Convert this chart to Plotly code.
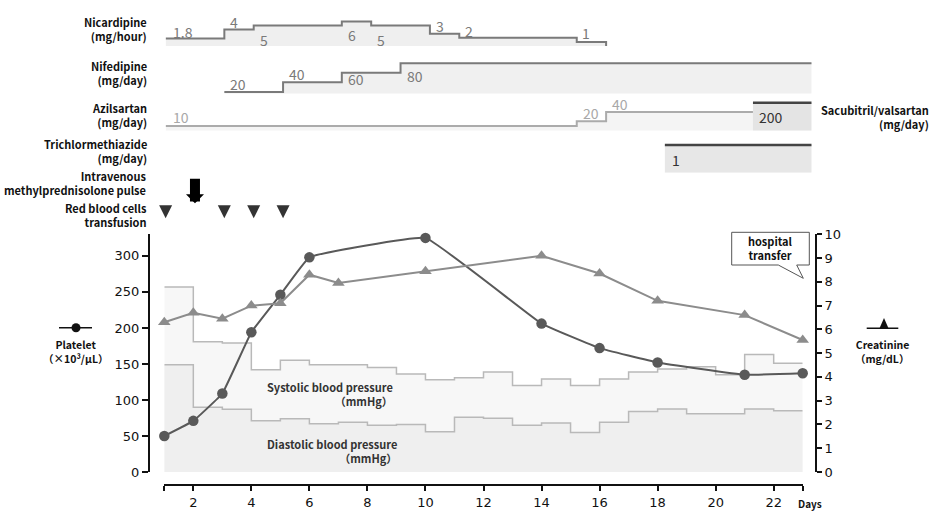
import plotly.graph_objects as go

W, H = 936, 511
def X(p): return p / W
def Y(p): return 1 - p / H

# ---------------- data ----------------
platelet_days = [1, 2, 3, 4, 5, 6, 10, 14, 16, 18, 21, 23]
platelet = [50, 71, 109, 194, 246, 298, 325, 206, 172, 152, 135, 137]

creat_days = [1, 2, 3, 4, 5, 6, 7, 10, 14, 16, 18, 21, 23]
creatinine = [6.3, 6.7, 6.45, 7.0, 7.1, 8.3, 7.95, 8.45, 9.1, 8.35, 7.2, 6.6, 5.55]

bp_days = list(range(1, 24))
systolic = [257, 181, 179, 142, 155, 149, 149, 145, 136, 128, 131, 139, 120, 129, 120,
            129, 139, 143, 146, 135, 163, 151]
diastolic = [149, 90, 87, 71, 74, 67, 69, 65, 66, 56, 76, 74.5, 65, 68, 55,
             69, 84, 87.5, 81, 81, 87.5, 85]

nicardipine_start = [1, 3, 4, 7, 8, 10, 11, 15]
nicardipine_dose = [1.8, 4, 5, 6, 5, 3, 2, 1]
nicardipine_stop = 16

nifedipine_start = [3, 5, 7, 9]
nifedipine_dose = [20, 40, 60, 80]
nifedipine_stop = 23

azilsartan_start = [1, 15, 16]
azilsartan_dose = [10, 20, 40]
azilsartan_stop = 21

sacubitril_start = [21]
sacubitril_dose = [200]
sacubitril_stop = 23

trichlor_start = [18]
trichlor_dose = [1]
trichlor_stop = 23

mpsl_days = [2]
rbc_days = [1, 3, 4, 5]

x_tick_days = [1, 2, 4, 6, 8, 10, 12, 14, 16, 18, 20, 22, 23]
x_tick_labels = ["", "2", "4", "6", "8", "10", "12", "14", "16", "18", "20", "22", ""]
left_ticks = [0, 50, 100, 150, 200, 250, 300]
right_ticks = list(range(0, 11))

# ---------------- styles ----------------
CJK = "Noto Sans CJK JP"
TICKF = dict(family="DejaVu Sans", size=13, color="#111")

def steps(starts, doses, stop, drop=False):
    xs = list(starts) + [stop]
    ys = list(doses) + [0 if drop else doses[-1]]
    return xs, ys

fig = go.Figure()

# blood pressure
fig.add_trace(go.Scatter(x=bp_days, y=systolic + [systolic[-1]], mode="lines",
                         line=dict(shape="hv", color="#b9b9b9", width=1.5),
                         fill="tozeroy", fillcolor="#f7f7f7", xaxis="x", yaxis="y"))
fig.add_trace(go.Scatter(x=bp_days, y=diastolic + [diastolic[-1]], mode="lines",
                         line=dict(shape="hv", color="#b9b9b9", width=1.5),
                         fill="tozeroy", fillcolor="#efefef", xaxis="x", yaxis="y"))
# platelet
fig.add_trace(go.Scatter(x=platelet_days, y=platelet, mode="lines+markers",
                         line=dict(color="#595959", width=2, shape="spline", smoothing=0.25),
                         marker=dict(symbol="circle", size=10.5, color="#595959"),
                         cliponaxis=False, xaxis="x", yaxis="y"))
# creatinine
fig.add_trace(go.Scatter(x=creat_days, y=creatinine, mode="lines+markers",
                         line=dict(color="#8c8c8c", width=2),
                         marker=dict(symbol="triangle-up", size=11, color="#8c8c8c"),
                         cliponaxis=False, xaxis="x", yaxis="y2"))

# drug panels
panels = [
    ("y3", nicardipine_start, nicardipine_dose, nicardipine_stop, True, "#7a7a7a", "#efefef", 2),
    ("y4", nifedipine_start, nifedipine_dose, nifedipine_stop, False, "#7a7a7a", "#f0f0f0", 2),
    ("y5", azilsartan_start, azilsartan_dose, azilsartan_stop, False, "#ababab", "#f4f4f4", 2),
    ("y6", sacubitril_start, sacubitril_dose, sacubitril_stop, False, "#444444", "#e4e4e4", 2.5),
    ("y7", trichlor_start, trichlor_dose, trichlor_stop, False, "#444444", "#e7e7e7", 2.5),
]
for ax, st, ds, sp, drop, lc, fc, lw in panels:
    xs, ys = steps(st, ds, sp, drop)
    fig.add_trace(go.Scatter(x=xs, y=ys, mode="lines",
                             line=dict(shape="hv", color=lc, width=lw),
                             fill="tozeroy", fillcolor=fc, xaxis="x2", yaxis=ax))

# transfusion markers
fig.add_trace(go.Scatter(x=rbc_days, y=[0] * len(rbc_days), mode="markers",
                         marker=dict(symbol="arrow-down", size=13, color="#333333"),
                         cliponaxis=False, xaxis="x2", yaxis="y8"))

annotations = []

def txt(x, y, lines, xanchor="left", align=None, size=11, color="#111", bold=True, family=CJK):
    if isinstance(lines, str):
        lines = [lines]
    body = "<br>".join((f"<b>{t}</b>" if bold else t) for t in lines)
    annotations.append(dict(x=X(x), y=Y(y), xref="paper", yref="paper", text=body,
                            showarrow=False, xanchor=xanchor, yanchor="middle",
                            align=align or xanchor, borderpad=0,
                            font=dict(family=family, size=size, color=color)))

# dose labels attached to step starts
label_specs = [
    ("y3", nicardipine_start, nicardipine_dose, [5, 4, 4, 4, 4, 4, 4, 3], [7, 8, -14, -13.6, -14, 8, 7, 8.6], "#7a7a7a"),
    ("y4", nifedipine_start, nifedipine_dose, [4, 3.7, 4, 4], [8.3, 8.3, -6, -13], "#7a7a7a"),
    ("y5", azilsartan_start, azilsartan_dose, [5, 4, 4], [9.3, 8.2, 8.3], "#a8a8a8"),
    ("y6", sacubitril_start, sacubitril_dose, [4], [-14], "#333333"),
    ("y7", trichlor_start, trichlor_dose, [5.5], [-15], "#333333"),
]
for ax, st, ds, dxs, dys, col in label_specs:
    for s, d, dx, dy in zip(st, ds, dxs, dys):
        annotations.append(dict(x=s, y=d, xref="x2", yref=ax, text=f"{d:g}", showarrow=False,
                                xanchor="left", yanchor="middle", xshift=dx, yshift=dy,
                                font=dict(family=CJK, size=14, color=col)))

# methylprednisolone arrow
for d in mpsl_days:
    annotations.append(dict(x=d, y=Y(203.3), xref="x2", yref="paper", text="", showarrow=True,
                            ax=0, ay=-26, arrowhead=1, arrowsize=0.3, arrowwidth=10,
                            arrowcolor="#000", standoff=0))

# left labels (two lines each)
for pair, yy in [(["Nicardipine", "(mg/hour)"], 29.2), (["Nifedipine", "(mg/day)"], 73.3),
                 (["Azilsartan", "(mg/day)"], 114.9), (["Trichlormethiazide", "(mg/day)"], 150.5),
                 (["Intravenous", "methylprednisolone pulse"], 183.2),
                 (["Red blood cells", "transfusion"], 214.5)]:
    txt(148, yy, pair, xanchor="right")
txt(929.5, 116.7, ["Sacubitril/valsartan", "(mg/day)"], xanchor="right")

# BP labels
txt(265.7, 394, ["Systolic blood pressure", "（mmHg）"], xanchor="left", align="right", color="#333")
txt(265.7, 450.5, ["Diastolic blood pressure", "（mmHg）"], xanchor="left", align="right", color="#333")

# legend-like keys
txt(75, 351.2, ["Platelet", "（×10³/μL）"], xanchor="center", size=10.5)
txt(909.5, 351.4, ["Creatinine", "（mg/dL）"], xanchor="right", size=10.5)

# hospital transfer
txt(770.5, 248, ["hospital", "transfer"], xanchor="center")

txt(797, 503.5, "Days", size=10)

shapes = [
    dict(type="line", xref="paper", yref="paper", x0=X(59), x1=X(92), y0=Y(327.7), y1=Y(327.7),
         line=dict(color="#111", width=1.5)),
    dict(type="circle", xref="paper", yref="paper", x0=X(71.5), x1=X(80.5), y0=Y(323.2), y1=Y(332.2),
         fillcolor="#111", line=dict(color="#111", width=0)),
    dict(type="line", xref="paper", yref="paper", x0=X(866.7), x1=X(898.3), y0=Y(328.3), y1=Y(328.3),
         line=dict(color="#111", width=1.5)),
    dict(type="path", xref="paper", yref="paper",
         path=f"M{X(884)},{Y(318)} L{X(888.5)},{Y(328.3)} L{X(879.5)},{Y(328.3)} Z",
         fillcolor="#111", line=dict(color="#111", width=0)),
    dict(type="path", xref="paper", yref="paper",
         path=(f"M{X(731.7)},{Y(232.3)} L{X(809.3)},{Y(232.3)} L{X(809.3)},{Y(265)} L{X(796.7)},{Y(265)} "
               f"L{X(803.3)},{Y(278.3)} L{X(778.3)},{Y(265)} L{X(731.7)},{Y(265)} Z"),
         fillcolor="white", line=dict(color="#555", width=1)),
]

hidden = dict(visible=False, showgrid=False, zeroline=False, fixedrange=True)

fig.update_layout(
    width=W, height=H, margin=dict(l=0, r=0, t=0, b=0, pad=0),
    paper_bgcolor="white", plot_bgcolor="rgba(0,0,0,0)", showlegend=False,
    xaxis=dict(domain=[X(164.3), X(802.7)], range=[1, 23], anchor="free", position=Y(485),
               tickvals=x_tick_days, ticktext=x_tick_labels, ticks="outside", ticklen=5, tickwidth=1.5,
               tickcolor="#111", showline=True, linewidth=2, linecolor="#111", showgrid=False,
               zeroline=False, tickfont=TICKF, automargin=False),
    yaxis=dict(domain=[Y(472), Y(234.3)], range=[0, 330], anchor="free", position=X(149),
               tickvals=left_ticks, ticks="outside", ticklen=6, tickwidth=1.5, tickcolor="#111",
               showline=True, linewidth=2, linecolor="#111", showgrid=False, zeroline=False,
               tickfont=TICKF, automargin=False),
    yaxis2=dict(domain=[Y(472), Y(234.3)], range=[0, 10], overlaying="y", side="right", anchor="free",
                position=X(816), tickvals=right_ticks, ticks="outside", ticklen=5, tickwidth=1.5,
                tickcolor="#111", showline=True, linewidth=2, linecolor="#111", showgrid=False,
                zeroline=False, tickfont=TICKF, automargin=False),
    xaxis2=dict(domain=[X(165.6), X(811.7)], range=[1, 23], anchor="y3", **hidden),
    yaxis3=dict(domain=[Y(46), Y(14)], range=[0, 32 / 4.1], anchor="x2", **hidden),
    yaxis4=dict(domain=[Y(93.5), Y(55)], range=[(101.5 - 93.5) / 0.4785, (101.5 - 55) / 0.4785],
                anchor="x2", **hidden),
    yaxis5=dict(domain=[Y(130.7), Y(100)], range=[0, 30.7 / 0.47], anchor="x2", **hidden),
    yaxis6=dict(domain=[Y(130.7), Y(100)], range=[0, 200 * 30.7 / 28], anchor="x2", **hidden),
    yaxis7=dict(domain=[Y(172.7), Y(142)], range=[0, 30.7 / 27.7], anchor="x2", **hidden),
    yaxis8=dict(domain=[Y(230), Y(170)], range=[-11.7, 48.3], anchor="x2", **hidden),
    annotations=annotations,
    shapes=shapes,
)

post = ("document.documentElement.style.margin='0';document.documentElement.style.overflow='hidden';"
        "document.body.style.margin='0';document.body.style.overflow='hidden';"
        "var gd=document.getElementById('{plot_id}');gd.style.position='fixed';gd.style.left='0px';gd.style.top='0px';")
fig.write_html("out.html", config={"responsive": False, "displayModeBar": False}, post_script=post)
